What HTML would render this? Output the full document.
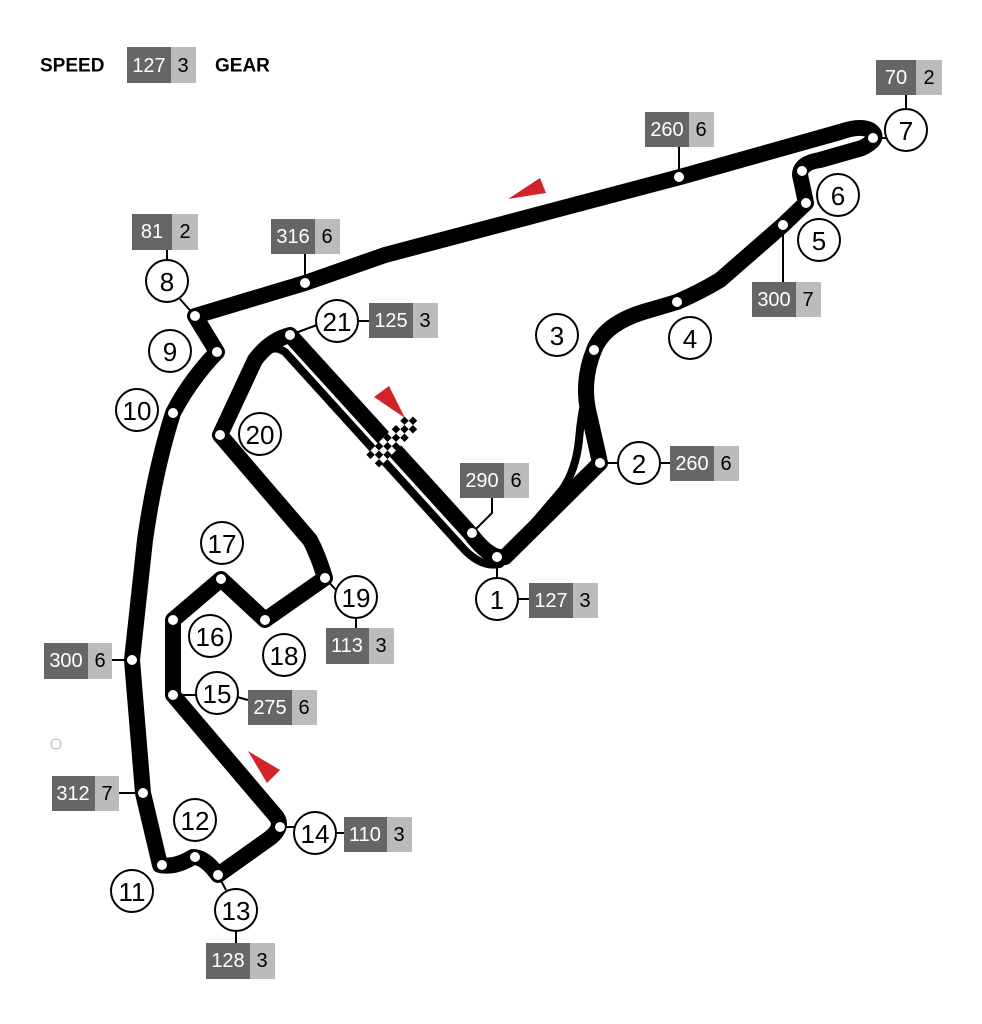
<!DOCTYPE html>
<html><head><meta charset="utf-8"><style>
html,body{margin:0;padding:0;background:#fff;}
svg{display:block;}
text{font-family:"Liberation Sans",sans-serif;}
.n{font-size:26px;fill:#000;text-anchor:middle;dominant-baseline:central;}
.s{font-size:20px;fill:#fff;text-anchor:middle;dominant-baseline:central;}
.g{font-size:20px;fill:#000;text-anchor:middle;dominant-baseline:central;}
</style></head><body>
<svg width="982" height="1024" viewBox="0 0 982 1024" xmlns="http://www.w3.org/2000/svg">
<rect width="982" height="1024" fill="#fff"/>
<text x="40" y="66" style="font-size:19px;font-weight:bold;dominant-baseline:central">SPEED</text>
<text x="215" y="66" style="font-size:19px;font-weight:bold;dominant-baseline:central">GEAR</text>

<g stroke="#000" stroke-width="2" fill="none">
<path d="M497 557 V580 M517 599 H529"/>
<path d="M600 463 H619 M659 463 H670"/>
<path d="M783 225 V282"/>
<path d="M873 138 H886 M906 110 V95"/>
<path d="M679 177 V147"/>
<path d="M305 283 V254"/>
<path d="M195 316 L180 299 M167 261 V250"/>
<path d="M290 335 L317 325 M357 321 H369"/>
<path d="M472 533 L492 513 V498"/>
<path d="M325 578 L336 590 M356 617 V628"/>
<path d="M173 695 H197 M237 697 L248 700"/>
<path d="M132 660 H111"/>
<path d="M143 793 H119"/>
<path d="M218 875 L226 890 M236 930 V943"/>
<path d="M280 827 H295 M335 833 H344"/>
</g>

<path d="M262 357 Q272 343 285 352 L461 546 Q480 568 500 564 Q506 556 514 546 L562 490 Q576 470 579 440 Q581 415 586 395" fill="none" stroke="#000" stroke-width="8" stroke-linejoin="round" stroke-linecap="round"/>
<path d="M290 335 L470 533 Q490 560 505 557 L600 463 Q595 440 588 410 Q582 380 594 350 Q605 322 650 310 L677 302 Q700 292 720 280 L783 225 L806 203 L800 175 Q800 163 820 160 L862 148 Q882 138 870 130 Q860 125 840 132 L680 177 L385 255 L305 283 L195 316 L217 352 Q190 380 173 413 Q155 470 145 540 L132 660 L143 793 L160 865 Q175 868 193 857 Q205 857 218 875 L270 838 Q285 826 275 815 L173 695 L173 620 L221 579 L265 620 L325 578 Q318 555 310 540 L220 435 L255 360 Q270 340 290 335 Z" fill="none" stroke="#000" stroke-width="16" stroke-linejoin="round"/>

<g fill="#fff">
<circle cx="497" cy="557" r="5"/><circle cx="472" cy="533" r="5"/><circle cx="600" cy="463" r="5"/>
<circle cx="594" cy="350" r="5"/><circle cx="677" cy="302" r="5"/><circle cx="783" cy="225" r="5"/>
<circle cx="806" cy="203" r="5"/><circle cx="802" cy="171" r="5"/><circle cx="873" cy="138" r="5"/>
<circle cx="679" cy="177" r="5"/><circle cx="305" cy="283" r="5"/><circle cx="195" cy="316" r="5"/>
<circle cx="217" cy="352" r="5"/><circle cx="173" cy="413" r="5"/><circle cx="132" cy="660" r="5"/>
<circle cx="143" cy="793" r="5"/><circle cx="162" cy="865" r="5"/><circle cx="195" cy="857" r="5"/>
<circle cx="218" cy="875" r="5"/><circle cx="280" cy="827" r="5"/><circle cx="173" cy="695" r="5"/>
<circle cx="173" cy="620" r="5"/><circle cx="221" cy="579" r="5"/><circle cx="265" cy="620" r="5"/>
<circle cx="325" cy="578" r="5"/><circle cx="220" cy="435" r="5"/><circle cx="290" cy="335" r="5"/>
</g>

<g transform="translate(396,442) rotate(-45)">
<rect x="-30" y="-12" width="60" height="18" fill="#fff"/>
<g fill="#000">
<rect x="-30" y="-12" width="6" height="6"/><rect x="-18" y="-12" width="6" height="6"/><rect x="-6" y="-12" width="6" height="6"/><rect x="6" y="-12" width="6" height="6"/><rect x="18" y="-12" width="6" height="6"/>
<rect x="-24" y="-6" width="6" height="6"/><rect x="-12" y="-6" width="6" height="6"/><rect x="0" y="-6" width="6" height="6"/><rect x="12" y="-6" width="6" height="6"/><rect x="24" y="-6" width="6" height="6"/>
<rect x="-30" y="0" width="6" height="6"/><rect x="-18" y="0" width="6" height="6"/><rect x="-6" y="0" width="6" height="6"/><rect x="6" y="0" width="6" height="6"/><rect x="18" y="0" width="6" height="6"/>
</g></g>

<g fill="#d2232a">
<polygon points="508,199 540,178 546,193"/>
<polygon points="374,397 389,386 405,418"/>
<polygon points="248,751 280,770 267,783"/>
</g>
<circle cx="56" cy="744" r="5" fill="none" stroke="#ccc" stroke-width="1.5"/>

<g fill="#fff" stroke="#000" stroke-width="2">
<circle cx="497" cy="599" r="21"/><circle cx="639" cy="463" r="21"/><circle cx="557" cy="335" r="21"/>
<circle cx="690" cy="338" r="21"/><circle cx="819" cy="240" r="21"/><circle cx="838" cy="195" r="21"/>
<circle cx="906" cy="130" r="21"/><circle cx="167" cy="281" r="21"/><circle cx="170" cy="351" r="21"/>
<circle cx="137" cy="410" r="21"/><circle cx="132" cy="891" r="21"/><circle cx="195" cy="820" r="21"/>
<circle cx="236" cy="910" r="21"/><circle cx="315" cy="833" r="21"/><circle cx="217" cy="693" r="21"/>
<circle cx="210" cy="636" r="21"/><circle cx="222" cy="543" r="21"/><circle cx="284" cy="655" r="21"/>
<circle cx="356" cy="597" r="21"/><circle cx="260" cy="434" r="21"/><circle cx="337" cy="321" r="21"/>
</g>
<g>
<text class="n" x="497" y="600">1</text><text class="n" x="639" y="464">2</text><text class="n" x="557" y="336">3</text>
<text class="n" x="690" y="339">4</text><text class="n" x="819" y="241">5</text><text class="n" x="838" y="196">6</text>
<text class="n" x="906" y="131">7</text><text class="n" x="167" y="282">8</text><text class="n" x="170" y="352">9</text>
<text class="n" x="137" y="411">10</text><text class="n" x="132" y="892">11</text><text class="n" x="195" y="821">12</text>
<text class="n" x="236" y="911">13</text><text class="n" x="315" y="834">14</text><text class="n" x="217" y="694">15</text>
<text class="n" x="210" y="637">16</text><text class="n" x="222" y="544">17</text><text class="n" x="284" y="656">18</text>
<text class="n" x="356" y="598">19</text><text class="n" x="260" y="435">20</text><text class="n" x="337" y="322">21</text>
</g>

<g>
<rect x="127" y="47" width="44" height="36" fill="#666"/><rect x="171" y="47" width="25" height="36" fill="#bbb"/><text class="s" x="149" y="66">127</text><text class="g" x="183" y="66">3</text>
<rect x="529" y="583" width="44" height="35" fill="#666"/><rect x="573" y="583" width="25" height="35" fill="#bbb"/><text class="s" x="551" y="601">127</text><text class="g" x="585" y="601">3</text>
<rect x="670" y="446" width="44" height="35" fill="#666"/><rect x="714" y="446" width="25" height="35" fill="#bbb"/><text class="s" x="692" y="464">260</text><text class="g" x="726" y="464">6</text>
<rect x="752" y="282" width="44" height="35" fill="#666"/><rect x="796" y="282" width="25" height="35" fill="#bbb"/><text class="s" x="774" y="300">300</text><text class="g" x="808" y="300">7</text>
<rect x="876" y="60" width="40" height="35" fill="#666"/><rect x="916" y="60" width="26" height="35" fill="#bbb"/><text class="s" x="896" y="78">70</text><text class="g" x="929" y="78">2</text>
<rect x="645" y="112" width="44" height="35" fill="#666"/><rect x="689" y="112" width="25" height="35" fill="#bbb"/><text class="s" x="667" y="130">260</text><text class="g" x="701" y="130">6</text>
<rect x="271" y="219" width="44" height="35" fill="#666"/><rect x="315" y="219" width="25" height="35" fill="#bbb"/><text class="s" x="293" y="237">316</text><text class="g" x="327" y="237">6</text>
<rect x="132" y="214" width="40" height="36" fill="#666"/><rect x="172" y="214" width="26" height="36" fill="#bbb"/><text class="s" x="152" y="232">81</text><text class="g" x="185" y="232">2</text>
<rect x="369" y="303" width="44" height="35" fill="#666"/><rect x="413" y="303" width="25" height="35" fill="#bbb"/><text class="s" x="391" y="321">125</text><text class="g" x="425" y="321">3</text>
<rect x="460" y="463" width="44" height="35" fill="#666"/><rect x="504" y="463" width="25" height="35" fill="#bbb"/><text class="s" x="482" y="481">290</text><text class="g" x="516" y="481">6</text>
<rect x="326" y="628" width="43" height="36" fill="#666"/><rect x="369" y="628" width="25" height="36" fill="#bbb"/><text class="s" x="347" y="646">113</text><text class="g" x="381" y="646">3</text>
<rect x="248" y="690" width="44" height="35" fill="#666"/><rect x="292" y="690" width="25" height="35" fill="#bbb"/><text class="s" x="270" y="708">275</text><text class="g" x="304" y="708">6</text>
<rect x="44" y="643" width="44" height="36" fill="#666"/><rect x="88" y="643" width="24" height="36" fill="#bbb"/><text class="s" x="66" y="661">300</text><text class="g" x="100" y="661">6</text>
<rect x="52" y="776" width="43" height="35" fill="#666"/><rect x="95" y="776" width="24" height="35" fill="#bbb"/><text class="s" x="73" y="794">312</text><text class="g" x="107" y="794">7</text>
<rect x="206" y="943" width="44" height="36" fill="#666"/><rect x="250" y="943" width="25" height="36" fill="#bbb"/><text class="s" x="228" y="961">128</text><text class="g" x="262" y="961">3</text>
<rect x="344" y="817" width="43" height="35" fill="#666"/><rect x="387" y="817" width="25" height="35" fill="#bbb"/><text class="s" x="365" y="835">110</text><text class="g" x="399" y="835">3</text>
</g>
</svg>
</body></html>
